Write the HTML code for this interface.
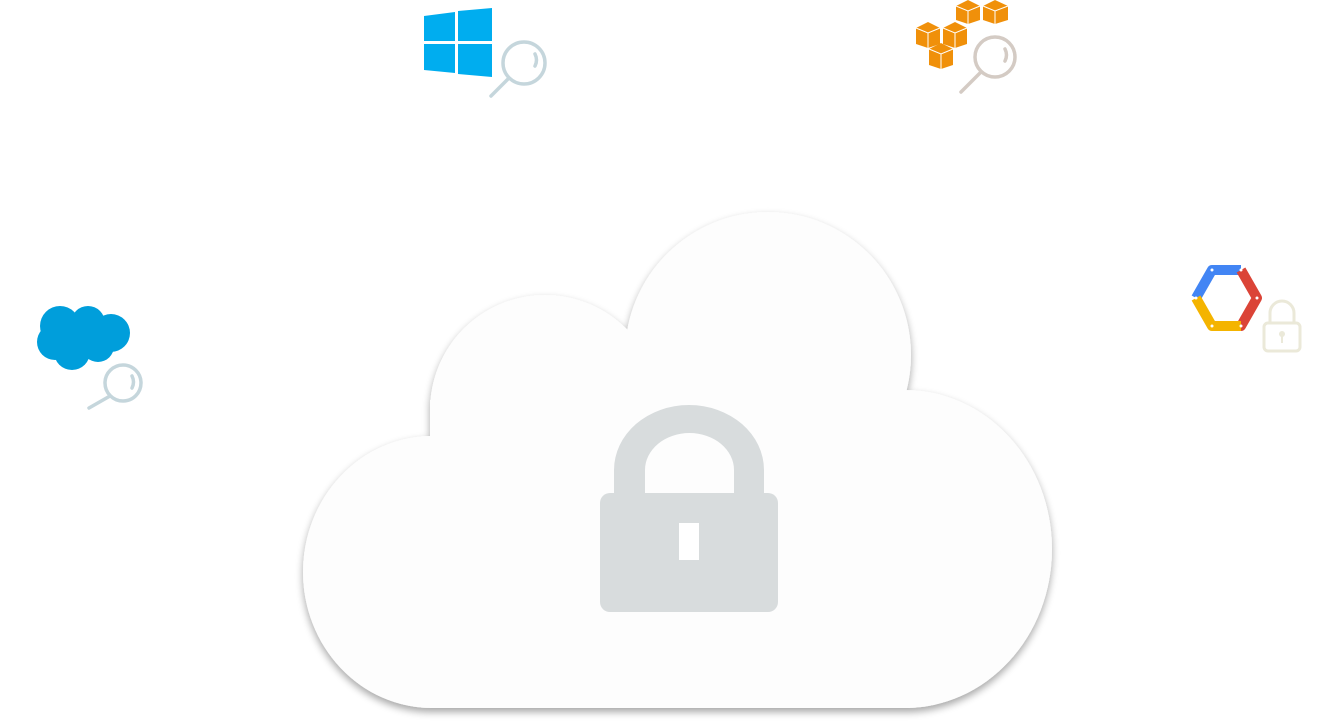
<!DOCTYPE html>
<html><head><meta charset="utf-8"><style>
html,body{margin:0;padding:0;background:#fff;width:1328px;height:727px;overflow:hidden}
svg{display:block}
</style></head><body>
<svg width="1328" height="727" viewBox="0 0 1328 727" xmlns="http://www.w3.org/2000/svg">
<defs>
<filter id="sh" x="-10%" y="-10%" width="120%" height="125%">
<feGaussianBlur in="SourceAlpha" stdDeviation="4"/>
<feOffset dx="0" dy="4" result="b"/>
<feComponentTransfer><feFuncA type="linear" slope="0.35"/></feComponentTransfer>
<feMerge><feMergeNode/><feMergeNode in="SourceGraphic"/></feMerge>
</filter>
</defs>
<g filter="url(#sh)" fill="#fdfdfd">
<ellipse cx="432" cy="572" rx="129" ry="136"/>
<ellipse cx="905" cy="549" rx="147" ry="159"/>
<circle cx="545" cy="410" r="115"/>
<circle cx="768" cy="355" r="143"/>
<rect x="430" y="400" width="480" height="308"/>
</g>
<path d="M614 493 V470 A75 65 0 0 1 764 470 V493 H734 V470 A44.5 37 0 0 0 645 470 V493 Z" fill="#d8dcdd"/>
<rect x="600" y="493" width="178" height="119" rx="10" fill="#d8dcdd"/>
<rect x="679" y="523" width="20" height="37" fill="#fff"/>
<g fill="#00adef">
<polygon points="424,16 455,12 455,41 424,41"/>
<polygon points="458,11 492,8 492,41 458,41"/>
<polygon points="424,44 455,44 455,73 424,70"/>
<polygon points="458,44 492,44 492,77 458,74"/>
</g>
<g stroke="#c5d6dc" stroke-width="3.5" fill="none" stroke-linecap="round">
<circle cx="524" cy="63" r="21"/><line x1="509" y1="78" x2="491" y2="96"/>
<path d="M535 54 Q538 60 535 66"/>
</g>
<g fill="#f0900a">
<polygon points="916,28 928,22 940,28 940,44 928,48 916,44"/>
<polygon points="943,28 955,22 967,28 967,44 955,48 943,44"/>
<polygon points="929,49 941,43 953,49 953,65 941,69 929,65"/>
<polygon points="956,6 968,0 980,6 980,20 968,24 956,20"/>
<polygon points="983,6 995,0 1008,6 1008,20 995,24 983,20"/>
</g>
<g stroke="#fff" stroke-width="1" fill="none">
<polyline points="916,28 928,33 940,28"/><line x1="928" y1="33" x2="928" y2="48"/>
<polyline points="943,28 955,33 967,28"/><line x1="955" y1="33" x2="955" y2="48"/>
<polyline points="929,49 941,54 953,49"/><line x1="941" y1="54" x2="941" y2="69"/>
<polyline points="956,6 968,11 980,6"/><line x1="968" y1="11" x2="968" y2="24"/>
<polyline points="983,6 995,11 1008,6"/><line x1="995" y1="11" x2="995" y2="24"/>
</g>
<g stroke="#d4cbc4" stroke-width="3.5" fill="none" stroke-linecap="round">
<circle cx="995" cy="57" r="20"/><line x1="981" y1="72" x2="961" y2="92"/>
<path d="M1005 49 Q1008 55 1005 61"/>
</g>
<g fill="#009edb">
<circle cx="60" cy="326" r="20"/><circle cx="88" cy="323" r="17"/><circle cx="111" cy="333" r="19"/>
<circle cx="55" cy="342" r="18"/><circle cx="72" cy="352" r="18"/><circle cx="98" cy="346" r="16"/>
</g>
<g stroke="#c5d6dc" stroke-width="3.5" fill="none" stroke-linecap="round">
<circle cx="123" cy="383" r="18"/><line x1="110" y1="396" x2="89" y2="408"/>
<path d="M132 376 Q135 382 132 388"/>
</g>
<g fill="none" stroke-width="10" stroke-linejoin="round">
<polyline points="1196,298 1212,270 1241,270" stroke="#4285f4"/>
<polyline points="1241,270 1257,298 1241,326 1236,326" stroke="#db4437"/>
<polyline points="1241,326 1212,326 1196,298" stroke="#f4b400"/>
</g>
<g fill="#fff"><circle cx="1212" cy="270" r="1.5"/><circle cx="1241" cy="270" r="1.5"/><circle cx="1257" cy="298" r="1.5"/><circle cx="1241" cy="326" r="1.5"/><circle cx="1212" cy="326" r="1.5"/><circle cx="1196" cy="298" r="1.5"/></g>
<g stroke="#ebe9d9" stroke-width="3" fill="none">
<path d="M1270 323 V313 A12 12 0 0 1 1294 313 V323"/>
<rect x="1264" y="323" width="36" height="28" rx="4"/>
</g>
<circle cx="1282" cy="334" r="3" fill="#ebe9d9"/><rect x="1281" y="335" width="2" height="8" fill="#ebe9d9"/>
</svg>
</body></html>
